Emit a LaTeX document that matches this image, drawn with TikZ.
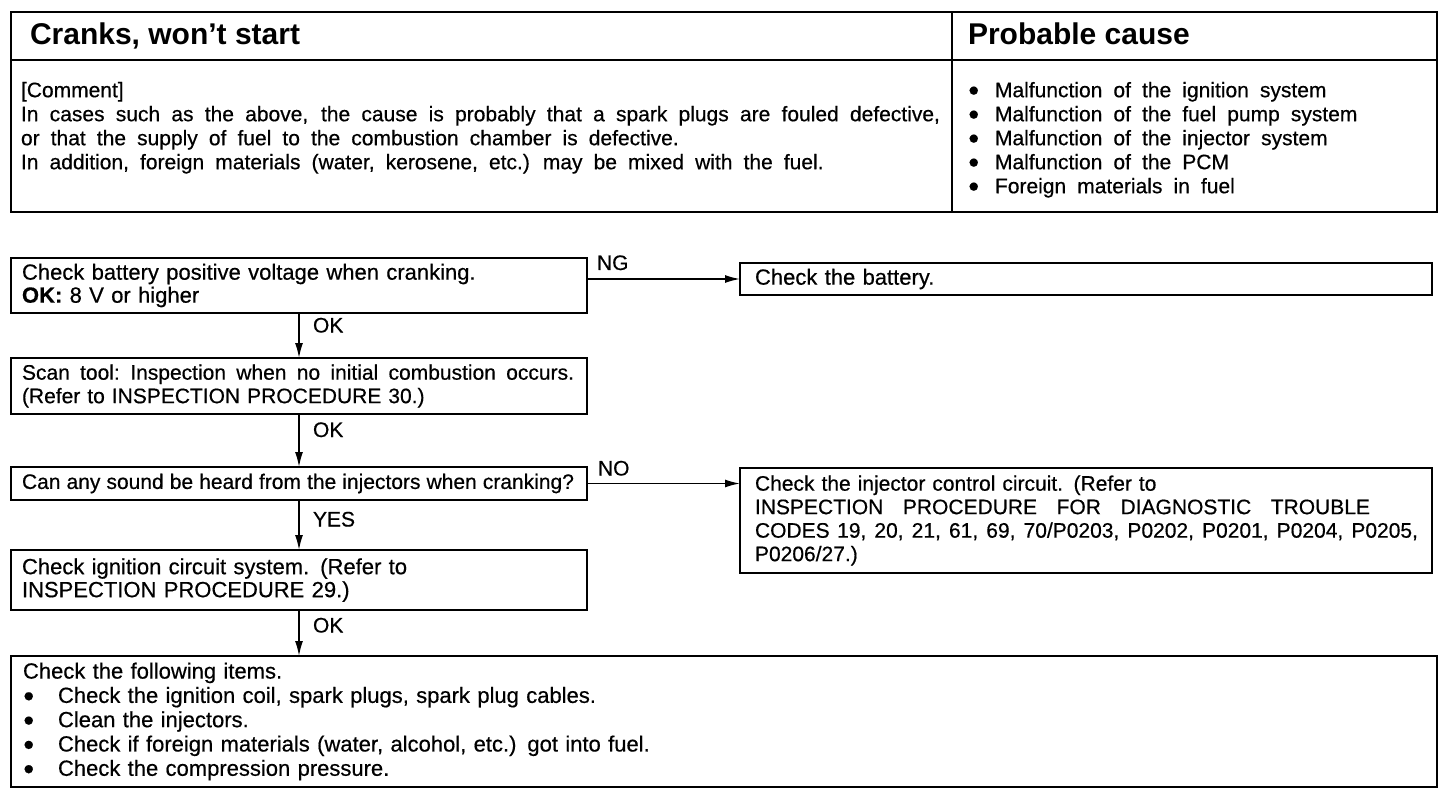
\documentclass[tikz,border=0pt]{standalone}
\usepackage{fontspec}
\usepackage{graphicx}
\setmainfont{Liberation Sans}[WordSpace=1.9, FakeBold=0.5]
\newfontfamily\hfont{Liberation Sans}[WordSpace=1.0, Ligatures=TeX]
\usetikzlibrary{arrows.meta,calc}
\newcommand{\jline}[2]{\makebox[#1pt][s]{\spaceskip=5pt plus 1fil minus 2pt #2}}
\newcommand{\bul}[1]{\makebox[#1pt][l]{\raisebox{1.2pt}{\fontsize{19}{19}\selectfont ●}}}
\begin{document}
\begin{tikzpicture}[x=1pt,y=-1pt,
  every node/.style={font=\fontsize{21}{23.5}\selectfont, inner sep=0pt, outer sep=0pt},
  box/.style={draw, line width=2pt, anchor=north west, align=left, inner xsep=11pt},
  rbox/.style={box, inner xsep=15pt},
  big/.style={font=\fontsize{22}{23}\selectfont},
  arr/.style={line width=1.6pt, -{Latex[length=15pt,width=8pt]}},
  lbl/.style={anchor=base west},
  head/.style={font=\hfont\fontsize{30}{34}\selectfont\bfseries, anchor=base west},
  para/.style={anchor=north west, align=left, font=\fontsize{21}{24}\selectfont},
]
\useasboundingbox (0,0) rectangle (1456,794);
\fill[white] (0,0) rectangle (1456,794);

% ---- top table ----
\draw[line width=2.4pt] (11,12) rectangle (1437,212);
\draw[line width=1.6pt] (11,60) -- (1437,60);
\draw[line width=1.8pt] (952,12) -- (952,212);
\node[head] (t1) at (30,45) {Cranks, won’t start};
\node[head] (t2) at (968,45) {Probable cause};
\node[para] (cm) at (21,82) {[Comment]\\
\jline{919}{In cases such as the above, the cause is probably that a spark plugs are fouled defective,}\\
or that the supply of fuel to the combustion chamber is defective.\\
In addition, foreign materials (water, kerosene, etc.) may be mixed with the fuel.};
\node[para] (pc) at (968,82) {\bul{27}Malfunction of the ignition system\\
\bul{27}Malfunction of the fuel pump system\\
\bul{27}Malfunction of the injector system\\
\bul{27}Malfunction of the PCM\\
\bul{27}Foreign materials in fuel};

% ---- flowchart boxes ----
\node[box, big, minimum width=576pt, minimum height=55pt, text width=554pt] (A) at (11,258)
  {Check battery positive voltage when cranking.\\ \textbf{OK:} 8 V or higher};
\node[rbox, big, minimum width=692pt, minimum height=32pt, text width=662pt] (bat) at (740,263)
  {Check the battery.};
\node[box, minimum width=576pt, minimum height=56pt, text width=554pt] (B) at (11,358)
  {\jline{552}{Scan tool: Inspection when no initial combustion occurs.}\\ (Refer to INSPECTION PROCEDURE 30.)};
\node[box, minimum width=576pt, minimum height=33pt, text width=554pt] (C) at (11,467)
  {\jline{552}{Can any sound be heard from the injectors when cranking?}};
\node[rbox, minimum width=692pt, minimum height=105pt, text width=662pt] (inj) at (740,468)
  {Check the injector control circuit. (Refer to\\
   \jline{615}{INSPECTION PROCEDURE FOR DIAGNOSTIC TROUBLE}\\
   \jline{663}{CODES 19, 20, 21, 61, 69, 70/P0203, P0202, P0201, P0204, P0205,}\\
   P0206/27.)};
\node[box, big, minimum width=576pt, minimum height=60pt, text width=554pt] (D) at (11,550)
  {Check ignition circuit system. (Refer to\\ INSPECTION PROCEDURE 29.)};
\node[box, font=\fontsize{22}{24.3}\selectfont, inner xsep=12pt, minimum width=1426pt, minimum height=131pt, text width=1402pt] (E) at (11,656)
  {Check the following items.\\
   \bul{35}Check the ignition coil, spark plugs, spark plug cables.\\
   \bul{35}Clean the injectors.\\
   \bul{35}Check if foreign materials (water, alcohol, etc.) got into fuel.\\
   \bul{35}Check the compression pressure.};

% ---- connectors ----
\draw[arr] (A.east |- bat.west) -- (bat.west)
  node[lbl, pos=0, xshift=10pt, yshift=9pt] {NG};
\draw[arr] (A.south) -- (B.north)
  node[lbl, pos=0, xshift=14pt, yshift=-19.5pt] {OK};
\draw[arr] (B.south) -- (C.north)
  node[lbl, pos=0, xshift=14pt, yshift=-23pt] {OK};
\draw[arr] (C.east) -- (C.east -| inj.west)
  node[lbl, pos=0, xshift=11pt, yshift=8pt] {NO};
\draw[arr] (C.south) -- (D.north)
  node[lbl, pos=0, xshift=14pt, yshift=-26.5pt] {YES};
\draw[arr] (D.south) -- (D.south |- E.north)
  node[lbl, pos=0, xshift=14pt, yshift=-22.5pt] {OK};
\end{tikzpicture}
\end{document}
